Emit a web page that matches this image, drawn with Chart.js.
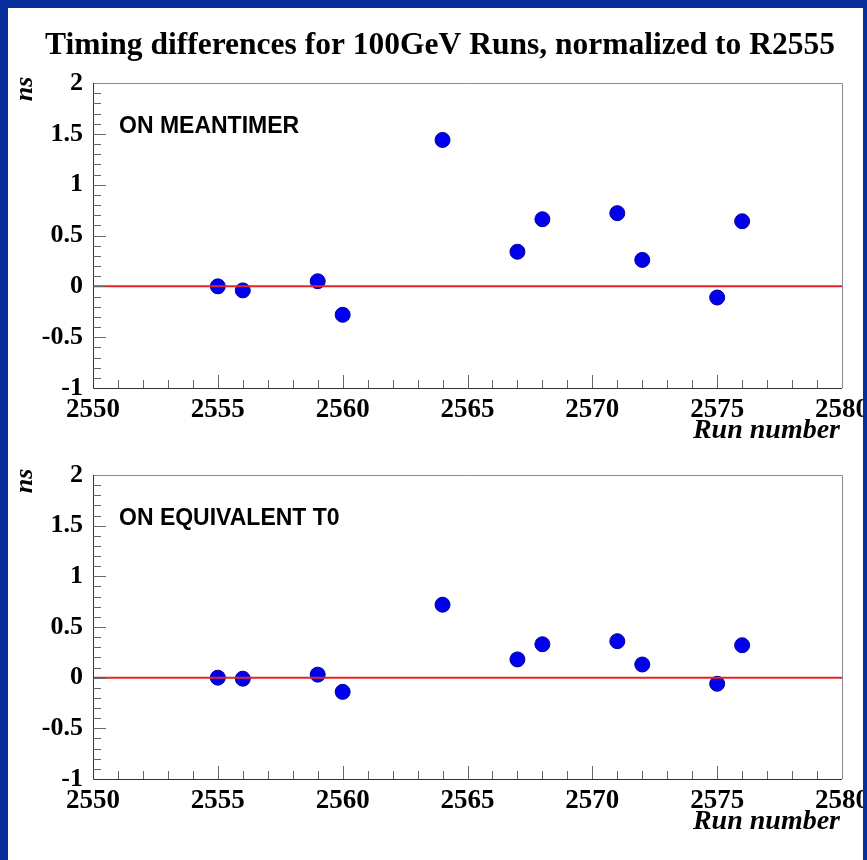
<!DOCTYPE html>
<html><head><meta charset="utf-8">
<script src="https://cdn.jsdelivr.net/npm/chart.js@4.4.0/dist/chart.umd.min.js"></script>
<style>
html,body{margin:0;padding:0;background:#07309c;width:867px;height:860px;overflow:hidden}
#page{position:absolute;left:8px;top:8px;width:855px;height:852px;background:#fff;overflow:hidden}
#c1{position:absolute;left:0;top:0}
#c2{position:absolute;left:0;top:410px}
</style></head><body>
<div id="page"><canvas id="c1" width="855" height="440"></canvas><canvas id="c2" width="855" height="442"></canvas></div>
<script>
// ---- data ----
const runs = [2555, 2556, 2559, 2560, 2564, 2567, 2568, 2571, 2572, 2575, 2576];
const meantimerNs = [0.00, -0.04, 0.05, -0.28, 1.44, 0.34, 0.66, 0.72, 0.26, -0.11, 0.64];
const equivT0Ns = [0.00, -0.01, 0.03, -0.14, 0.72, 0.18, 0.33, 0.36, 0.13, -0.06, 0.32];
const xRange = [2550, 2580];
const yRange = [-1, 2];
const xTickStep = 5, xMinorStep = 1;
const yTickStep = 0.5, yMinorStep = 0.1;
const referenceLevel = 0;
const titleText = 'Timing differences for 100GeV Runs, normalized to R2555';
const panelLabels = ['ON MEANTIMER', 'ON EQUIVALENT T0'];
const yAxisTitle = 'ns';
const xAxisTitle = 'Run number';

const SERIF = '"Liberation Serif", "Times New Roman", serif';
const SANS = '"Liberation Sans", Arial, sans-serif';

function decorPlugin(label, showTitle) {
  return {
    id: 'decor',
    afterDatasetsDraw(chart) {
      const ctx = chart.ctx, ca = chart.chartArea;
      const xs = chart.scales.x, ys = chart.scales.y;
      ctx.save();
      // frame
      ctx.strokeStyle = '#8a8a8a'; ctx.lineWidth = 1;
      ctx.beginPath();
      ctx.moveTo(ca.left, ca.top + 0.5); ctx.lineTo(ca.right + 0.5, ca.top + 0.5); ctx.lineTo(ca.right + 0.5, ca.bottom);
      ctx.stroke();
      ctx.strokeStyle = '#333';
      ctx.beginPath();
      ctx.moveTo(ca.left + 0.5, ca.top); ctx.lineTo(ca.left + 0.5, ca.bottom + 0.5); ctx.lineTo(ca.right, ca.bottom + 0.5);
      ctx.stroke();
      // ticks
      ctx.strokeStyle = '#666';
      ctx.beginPath();
      const nY = Math.round((yRange[1] - yRange[0]) / yMinorStep);
      const perMajY = Math.round(yTickStep / yMinorStep);
      for (let i = 1; i < nY; i++) {
        const v = yRange[0] + i * yMinorStep;
        const p = Math.round(ys.getPixelForValue(v)) + 0.5;
        const len = (i % perMajY === 0) ? 13 : 8;
        ctx.moveTo(ca.left, p); ctx.lineTo(ca.left + len, p);
      }
      const nX = Math.round((xRange[1] - xRange[0]) / xMinorStep);
      const perMajX = Math.round(xTickStep / xMinorStep);
      for (let i = 1; i < nX; i++) {
        const v = xRange[0] + i * xMinorStep;
        const p = Math.round(xs.getPixelForValue(v)) + 0.5;
        const len = (i % perMajX === 0) ? 13 : 8;
        ctx.moveTo(p, ca.bottom); ctx.lineTo(p, ca.bottom - len);
      }
      ctx.stroke();
      // texts
      ctx.fillStyle = '#000';
      ctx.font = 'bold 23px ' + SANS;
      ctx.textAlign = 'left'; ctx.textBaseline = 'middle';
      ctx.fillText(label, ca.left + 26, ca.top + 44);
      ctx.font = 'italic bold 28px ' + SERIF;
      ctx.textAlign = 'right';
      ctx.fillText(xAxisTitle, ca.right - 2, ca.bottom + 43);
      ctx.save();
      ctx.translate(17, ca.top + 6);
      ctx.rotate(-Math.PI / 2);
      ctx.font = 'italic bold 26px ' + SERIF;
      ctx.textAlign = 'center';
      ctx.fillText(yAxisTitle, 0, 0);
      ctx.restore();
      if (showTitle) {
        ctx.font = 'bold 31.5px ' + SERIF;
        ctx.textAlign = 'center';
        ctx.fillText(titleText, 432, 38);
      }
      ctx.restore();
    }
  };
}

function makeChart(canvasId, values, label, padTop, xAxisHeight, showTitle) {
  return new Chart(document.getElementById(canvasId), {
    type: 'scatter',
    data: {
      datasets: [
        {
          type: 'line',
          data: [{x: xRange[0], y: referenceLevel}, {x: xRange[1], y: referenceLevel}],
          borderColor: '#e3242b', borderWidth: 2, pointRadius: 0, order: 0
        },
        {
          data: runs.map((r, i) => ({x: r, y: values[i]})),
          backgroundColor: '#0000ee', borderColor: '#00009a', borderWidth: 1,
          pointRadius: 7.5, order: 1
        }
      ]
    },
    options: {
      responsive: false, animation: false, events: [],
      layout: {padding: {top: padTop, right: 21, left: 0, bottom: 0}},
      plugins: {legend: {display: false}, tooltip: {enabled: false}},
      scales: {
        x: {
          type: 'linear', min: xRange[0], max: xRange[1],
          grid: {display: false, drawTicks: false}, border: {display: false},
          ticks: {
            stepSize: xTickStep, autoSkip: false, maxRotation: 0, padding: 6, color: '#000',
            font: {family: SERIF, size: 27, weight: 'bold'},
            callback: v => String(v)
          },
          afterFit: s => { s.height = xAxisHeight; s.paddingLeft = 0; s.paddingRight = 0; }
        },
        y: {
          type: 'linear', min: yRange[0], max: yRange[1],
          grid: {display: false, drawTicks: false}, border: {display: false},
          ticks: {
            stepSize: yTickStep, padding: 10, color: '#000',
            font: {family: SERIF, size: 26, weight: 'bold'},
            callback: v => String(Math.round(v * 10) / 10)
          },
          afterFit: s => { s.width = 85; s.paddingTop = 0; s.paddingBottom = 0; }
        }
      }
    },
    plugins: [decorPlugin(label, showTitle)]
  });
}

makeChart('c1', meantimerNs, panelLabels[0], 75, 60, true);
makeChart('c2', equivT0Ns, panelLabels[1], 57, 81, false);
</script>
</body></html>
